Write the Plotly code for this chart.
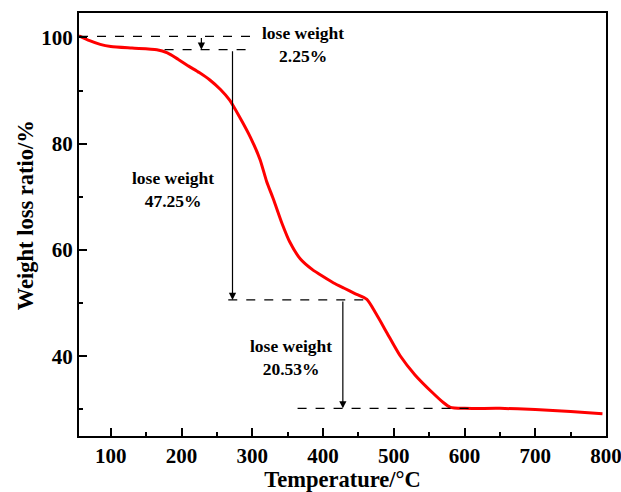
import plotly.graph_objects as go

temperature = [55, 70, 85, 100, 130, 165, 180, 195, 210, 225, 240, 255, 268, 283, 297, 311, 320,
               330, 342, 353, 368, 385, 400, 415, 430, 445, 462, 475, 490, 509, 530, 556,
               570, 580, 600, 650, 700, 750, 795]
weight = [100.3, 99.4, 98.7, 98.3, 98.0, 97.7, 97.1, 95.9, 94.6, 93.4, 92.0, 90.2, 88.2, 84.8,
          81.3, 77.0, 73.0, 69.5, 65.0, 61.5, 58.3, 56.3, 55.0, 53.8, 52.8, 51.8, 50.7,
          48.0, 44.5, 40.1, 36.5, 33.0, 31.3, 30.4, 30.2, 30.2, 30.0, 29.6, 29.2]

# step levels and label texts
levels = [100.2, 97.7, 50.6, 30.2]
loss_labels = ["lose weight<br>2.25%", "lose weight<br>47.25%", "lose weight<br>20.53%"]

FONT = "Liberation Serif"

fig = go.Figure()
fig.add_trace(go.Scatter(x=temperature, y=weight, mode="lines",
                         line=dict(color="#ff0000", width=3, shape="spline", smoothing=0.6),
                         showlegend=False, hoverinfo="skip"))

dash = dict(color="black", width=1.3, dash="dash")
shapes = [
    dict(type="line", xref="x", yref="y", x0=55, x1=300, y0=levels[0], y1=levels[0], line=dash),
    dict(type="line", xref="x", yref="y", x0=176, x1=300, y0=levels[1], y1=levels[1], line=dash),
    dict(type="line", xref="x", yref="y", x0=266, x1=465, y0=levels[2], y1=levels[2], line=dash),
    dict(type="line", xref="x", yref="y", x0=364, x1=612, y0=levels[3], y1=levels[3], line=dash),
]

arrows = [
    (228, levels[0], levels[1]),
    (272, levels[1], levels[2]),
    (428, levels[2], levels[3]),
]
annotations = []
for xa, y0, y1 in arrows:
    annotations.append(dict(x=xa, y=y1, ax=xa, ay=y0, xref="x", yref="y", axref="x", ayref="y",
                            showarrow=True, arrowhead=2, arrowsize=1.2, arrowwidth=1.2,
                            arrowcolor="black", text=""))

label_pos = [(372, 98.6), (188, 71.4), (355, 39.8)]
for (lx, ly), txt in zip(label_pos, loss_labels):
    annotations.append(dict(x=lx, y=ly, xref="x", yref="y", text=txt, showarrow=False,
                            font=dict(family=FONT, size=17.5, color="black", weight="bold"),
                            align="center"))

# y-axis title
annotations.append(dict(x=0, y=0.522, xref="paper", yref="paper", xshift=-54,
                        xanchor="center", yanchor="middle", textangle=-90, showarrow=False,
                        text="Weight loss ratio/%",
                        font=dict(family=FONT, size=22.5, color="black", weight="bold")))

fig.update_layout(
    width=621, height=492,
    margin=dict(l=79, r=15, t=13, b=56),
    paper_bgcolor="white", plot_bgcolor="white",
    font=dict(family=FONT, color="black", weight="bold"),
    shapes=shapes, annotations=annotations,
    xaxis=dict(range=[55, 800], dtick=100, tick0=0, showline=True, linecolor="black", linewidth=2,
               mirror=True, ticks="inside", ticklen=8, tickwidth=2, tickcolor="black",
               minor=dict(dtick=50, ticks="inside", ticklen=4, tickwidth=2, tickcolor="black"),
               showgrid=False, zeroline=False, automargin=False, ticklabeloverflow="allow",
               tickfont=dict(family=FONT, size=21, weight="bold"),
               title=dict(text="Temperature/°C", font=dict(family=FONT, size=22.5, weight="bold"))),
    yaxis=dict(range=[25, 104.6], dtick=20, tick0=0, showline=True, linecolor="black", linewidth=2,
               mirror=True, ticks="inside", ticklen=8, tickwidth=2, tickcolor="black",
               minor=dict(dtick=10, ticks="inside", ticklen=4, tickwidth=2, tickcolor="black"),
               showgrid=False, zeroline=False, automargin=False, ticklabeloverflow="allow",
               tickfont=dict(family=FONT, size=21, weight="bold")),
)

fig.write_html("out.html", config={"displayModeBar": False},
               post_script="document.body.style.margin='0px';")
